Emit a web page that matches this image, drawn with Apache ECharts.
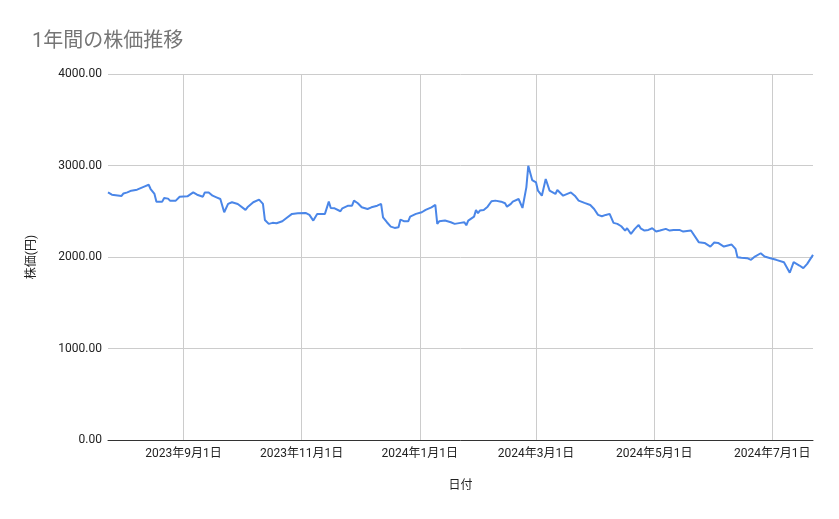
<!DOCTYPE html>
<html>
<head>
<meta charset="utf-8">
<script src="https://cdn.jsdelivr.net/npm/echarts@6/dist/echarts.min.js"></script>
<style>
html,body{margin:0;padding:0;background:#fff;}
#chart{width:839px;height:519px;}
</style>
</head>
<body>
<div id="chart"></div>
<script>
// ---- data ----
const dates = [
'2023-07-24','2023-07-26','2023-07-27','2023-07-31','2023-08-01','2023-08-03','2023-08-05','2023-08-08','2023-08-09','2023-08-12',
'2023-08-14','2023-08-15','2023-08-17','2023-08-18','2023-08-21','2023-08-22','2023-08-24','2023-08-25','2023-08-28','2023-08-30',
'2023-08-31','2023-09-03','2023-09-06','2023-09-08','2023-09-11','2023-09-12','2023-09-14','2023-09-16','2023-09-18','2023-09-20',
'2023-09-21','2023-09-22','2023-09-24','2023-09-26','2023-09-27','2023-09-29','2023-10-03','2023-10-04','2023-10-07','2023-10-10',
'2023-10-11','2023-10-12','2023-10-13','2023-10-15','2023-10-16','2023-10-17','2023-10-19','2023-10-22','2023-10-24','2023-10-27',
'2023-10-28','2023-10-30','2023-10-31','2023-11-03','2023-11-05','2023-11-07','2023-11-09','2023-11-13','2023-11-15','2023-11-16',
'2023-11-18','2023-11-21','2023-11-22','2023-11-25','2023-11-26','2023-11-27','2023-11-28','2023-11-30','2023-12-02','2023-12-05',
'2023-12-07','2023-12-10','2023-12-12','2023-12-13','2023-12-14','2023-12-15','2023-12-17','2023-12-19','2023-12-21','2023-12-22',
'2023-12-24','2023-12-26','2023-12-27','2023-12-30','2024-01-02','2024-01-04','2024-01-05','2024-01-07','2024-01-09','2024-01-10',
'2024-01-11','2024-01-14','2024-01-15','2024-01-17','2024-01-18','2024-01-19','2024-01-22','2024-01-24','2024-01-25','2024-01-26',
'2024-01-29','2024-01-30','2024-01-31','2024-02-01','2024-02-03','2024-02-05','2024-02-06','2024-02-07','2024-02-09','2024-02-12',
'2024-02-14','2024-02-15','2024-02-17','2024-02-18','2024-02-21','2024-02-22','2024-02-23','2024-02-25','2024-02-26','2024-02-27',
'2024-02-28','2024-03-01','2024-03-02','2024-03-04','2024-03-06','2024-03-08','2024-03-11','2024-03-12','2024-03-15','2024-03-19',
'2024-03-21','2024-03-23','2024-03-26','2024-03-29','2024-03-31','2024-04-02','2024-04-03','2024-04-04','2024-04-06','2024-04-08',
'2024-04-10','2024-04-12','2024-04-14','2024-04-16','2024-04-17','2024-04-19','2024-04-21','2024-04-23','2024-04-24','2024-04-26',
'2024-04-28','2024-04-30','2024-05-02','2024-05-04','2024-05-07','2024-05-09','2024-05-11','2024-05-14','2024-05-15','2024-05-16',
'2024-05-17','2024-05-20','2024-05-21','2024-05-24','2024-05-27','2024-05-30','2024-06-01','2024-06-03','2024-06-06','2024-06-08',
'2024-06-10','2024-06-12','2024-06-13','2024-06-15','2024-06-18','2024-06-20','2024-06-22','2024-06-25','2024-06-27','2024-06-30',
'2024-07-03','2024-07-04','2024-07-07','2024-07-08','2024-07-10','2024-07-11','2024-07-12','2024-07-15','2024-07-17','2024-07-19',
'2024-07-22'
];
const prices = [
2706,2681,2670,2667,2695,2706,2725,2736,2754,2772,
2790,2743,2689,2605,2605,2645,2638,2616,2616,2659,
2667,2663,2706,2681,2659,2706,2706,2670,2652,2634,
2652,2489,2580,2598,2598,2580,2515,2543,2598,2627,
2634,2580,2405,2362,2343,2373,2369,2390,2423,2471,
2460,2478,2489,2482,2460,2398,2471,2471,2605,2536,
2532,2500,2532,2561,2569,2561,2616,2587,2543,2525,
2543,2561,2580,2434,2452,2380,2332,2318,2325,2409,
2390,2390,2441,2471,2489,2515,2507,2543,2569,2362,
2390,2398,2405,2380,2398,2362,2373,2380,2347,2398,
2441,2514,2478,2507,2514,2550,2550,2609,2616,2605,
2587,2550,2580,2605,2634,2616,2536,2761,2997,2979,
2841,2815,2725,2670,2852,2725,2689,2732,2670,2706,
2670,2616,2591,2569,2525,2460,2471,2445,2460,2471,
2373,2362,2336,2289,2314,2253,2307,2351,2314,2289,
2296,2314,2278,2289,2307,2289,2296,2296,2314,2278,
2296,2289,2271,2162,2154,2114,2158,2154,2114,2125,
2136,2089,1998,1991,1987,1969,2005,2041,2005,1987,
1969,1954,1943,1943,1828,1834,1943,1907,1878,1925,
2023
];
const xTickDates = ['2023-09-01','2023-11-01','2024-01-01','2024-03-01','2024-05-01','2024-07-01'];
const xRange = ['2023-07-24','2024-07-22'];
const yTicks = [0, 1000, 2000, 3000, 4000];

const titleText = '1年間の株価推移';
const xName = '日付';
const yName = '株価(円)';

// ---- chart ----
function parseT(s) {
  const p = s.split('-').map(Number);
  return new Date(p[0], p[1] - 1, p[2]).getTime();
}
const tickTs = xTickDates.map(parseT);
const FONT = "Roboto, 'Noto Sans CJK JP', sans-serif";

const chart = echarts.init(document.getElementById('chart'), null, {renderer: 'canvas'});
chart.setOption({
  backgroundColor: '#ffffff',
  animation: false,
  textStyle: {fontFamily: FONT},
  title: {
    text: titleText,
    left: 27, top: 27,
    textStyle: {fontSize: 20, color: '#757575', fontWeight: 'normal', fontFamily: FONT}
  },
  grid: {left: 108, right: 26, top: 74, bottom: 79, containLabel: false},
  xAxis: {
    type: 'value',
    min: parseT(xRange[0]),
    max: parseT(xRange[1]),
    scale: true,
    name: xName,
    nameLocation: 'middle',
    nameGap: 40,
    nameTextStyle: {fontSize: 12, color: '#222', fontFamily: FONT},
    axisLine: {show: true, onZero: false, lineStyle: {color: '#333', width: 1}},
    axisTick: {show: false, customValues: tickTs},
    axisLabel: {
      customValues: tickTs,
      showMinLabel: true, showMaxLabel: true,
      hideOverlap: false,
      color: '#222', fontSize: 12, margin: 8, fontFamily: FONT,
      formatter: function (v) {
        const d = new Date(v);
        return d.getFullYear() + '年' + (d.getMonth() + 1) + '月' + d.getDate() + '日';
      }
    },
    splitLine: {show: true, lineStyle: {color: '#cccccc', width: 1}}
  },
  yAxis: {
    type: 'value',
    min: yTicks[0], max: yTicks[yTicks.length - 1], interval: yTicks[1] - yTicks[0],
    name: yName,
    nameLocation: 'middle',
    nameGap: 70,
    nameTextStyle: {fontSize: 12, color: '#222', fontFamily: FONT},
    axisLine: {show: false},
    axisTick: {show: false},
    axisLabel: {color: '#222', fontSize: 12, margin: 6, fontFamily: FONT,
      formatter: v => v.toFixed(2)},
    splitLine: {show: true, lineStyle: {color: '#cccccc', width: 1}}
  },
  series: [{
    type: 'line',
    data: dates.map((d, i) => [parseT(d), prices[i]]),
    showSymbol: false,
    symbol: 'none',
    lineStyle: {color: '#4a86e8', width: 2},
    itemStyle: {color: '#4a86e8'}
  }]
});
</script>
</body>
</html>
